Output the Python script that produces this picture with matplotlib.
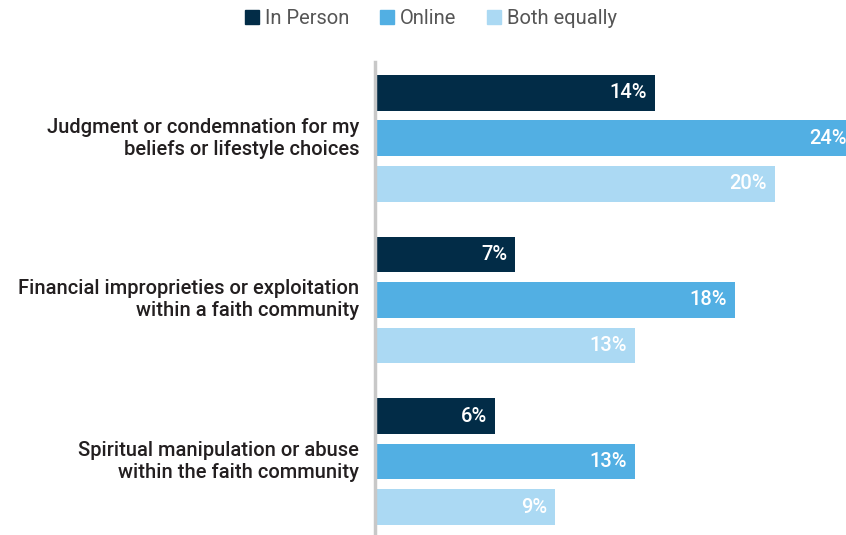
import matplotlib
matplotlib.use('Agg')
import matplotlib.pyplot as plt
from matplotlib.patches import Patch
import matplotlib.transforms as mtransforms

plt.rcParams['font.family'] = ['Roboto', 'DejaVu Sans']

categories = ['Judgment or condemnation for my\nbeliefs or lifestyle choices',
              'Financial improprieties or exploitation\nwithin a faith community',
              'Spiritual manipulation or abuse\nwithin the faith community']
series = ['In Person', 'Online', 'Both equally']
values = [[14, 24, 20],
          [7, 18, 13],
          [6, 13, 9]]
colors = ['#022c47', '#52afe3', '#abd9f3']

W, H = 846, 535
fig = plt.figure(figsize=(W / 100, H / 100), dpi=100)
# axes from x=375 to right edge, y=62 to bottom
ax = fig.add_axes([375 / W, 0, (W - 375) / W, (535 - 62) / H])

group_step = 3.55
bar_h = 0.79
val_off = mtransforms.offset_copy(ax.transData, fig=fig, x=-8, y=0, units='dots')
cat_off = mtransforms.offset_copy(ax.transData, fig=fig, x=-16, y=0, units='dots')
for g, cat in enumerate(categories):
    for b, s in enumerate(series):
        y = g * group_step + b
        v = values[g][b]
        ax.barh(y, v, height=bar_h, color=colors[b])
        ax.text(v, y, f'{v}%', transform=val_off, ha='right', va='center',
                color='white', fontsize=14.5, fontweight='medium')
    ax.text(0, g * group_step + 1, cat, transform=cat_off, ha='right', va='center',
            fontsize=14.5, color='#231f20', linespacing=1.2, fontweight='medium',
            clip_on=False)

ax.set_xlim(0, (W - 375) / 20)
ax.set_ylim(2 * group_step + 2 + 0.615, -0.68)
for sp in ['top', 'right', 'bottom']:
    ax.spines[sp].set_visible(False)
ax.spines['left'].set_color('#c8c8c8')
ax.spines['left'].set_linewidth(2.5)
ax.set_xticks([])
ax.set_yticks([])

handles = [Patch(color=c, label=s) for c, s in zip(colors, series)]
leg = fig.legend(handles=handles, loc='center', bbox_to_anchor=(431 / W, 1 - 18.5 / H),
                 ncol=3, frameon=False, fontsize=14.5, handlelength=0.7, handleheight=0.7,
                 handletextpad=0.3, columnspacing=1.5)
for t in leg.get_texts():
    t.set_color('#555555')

fig.savefig('out.png', dpi=100)
